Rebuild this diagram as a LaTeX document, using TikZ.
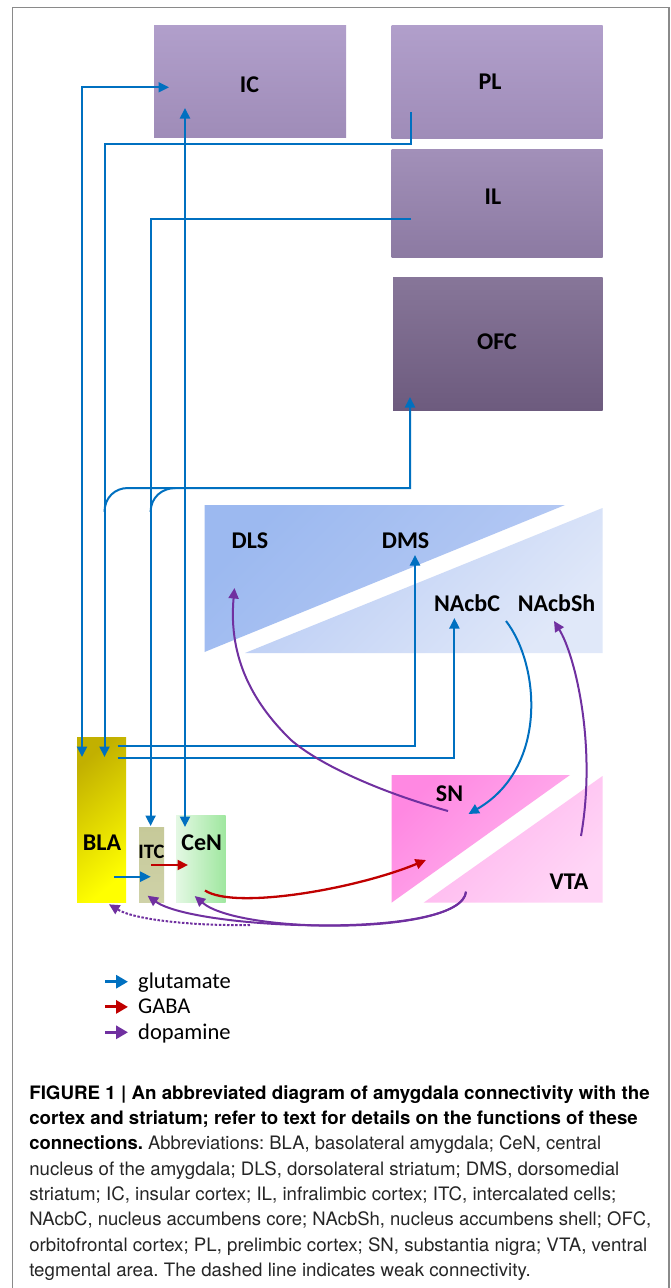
\documentclass[tikz,border=0pt]{standalone}
\usepackage{graphicx}
\usepackage{fontspec}
\setmainfont{Carlito}
\newfontfamily\capfont{TeX Gyre Heros}
\usetikzlibrary{arrows.meta}
\frenchspacing
\definecolor{glublue}{HTML}{0070C0}
\definecolor{gabared}{HTML}{C00000}
\definecolor{dopapurple}{HTML}{7030A0}
\definecolor{framegray}{HTML}{8A8A8A}
\definecolor{icTop}{HTML}{B19FCB}
\definecolor{icBot}{HTML}{9F8CB8}
\definecolor{ilTop}{HTML}{A290B9}
\definecolor{ilBot}{HTML}{8C7AA2}
\definecolor{ofcTop}{HTML}{877699}
\definecolor{ofcBot}{HTML}{6D5B7E}
\definecolor{strDark}{HTML}{9CB9F0}
\definecolor{strMid}{HTML}{B8CBF4}
\definecolor{strLight}{HTML}{E0E8F9}
\definecolor{snDark}{HTML}{FF88E2}
\definecolor{snLight}{HTML}{FFB8EF}
\definecolor{vtaDark}{HTML}{FFB0ED}
\definecolor{vtaLight}{HTML}{FFD6F6}
\definecolor{blaDark}{HTML}{C2B000}
\definecolor{blaLight}{HTML}{FFFF00}
\definecolor{itcCol}{HTML}{C6C999}
\definecolor{itcLight}{HTML}{CFD2A8}
\definecolor{cenLight}{HTML}{E4F8E4}
\definecolor{cenDark}{HTML}{9FE79F}
\begin{document}
\begin{tikzpicture}[x=1pt,y=-1pt,
  lbl/.style={font=\fontsize{24}{28}\selectfont\bfseries, inner sep=0pt, text=black},
  box/.style={inner sep=0pt, draw=none},
  glu/.style={draw=glublue, line width=2pt},
  gaba/.style={draw=gabared, line width=2.3pt},
  dopa/.style={draw=dopapurple, line width=2pt},
  >={Triangle[length=10.5pt,width=10pt]},
  legtip/.style={-{Triangle[length=12pt,width=13pt]}, line width=3pt},
  legtxt/.style={font=\fontsize{22.5}{26}\selectfont, anchor=base west, inner sep=0pt},
  capline/.style={anchor=base west, inner sep=0pt, font=\capfont\fontsize{18.5}{22}\selectfont}
]
\useasboundingbox (0,0) rectangle (671,1288);
\fill[white] (0,0) rectangle (671,1288);
\draw[framegray, line width=1.3pt] (12.8,1292) -- (12.8,7.5) -- (669,7.5) -- (669,1292);

% cortex boxes
\node[box, minimum width=192pt, minimum height=112pt, top color=icTop, bottom color=icBot] (IC) at (250,81) {};
\node[box, minimum width=211pt, minimum height=113pt, top color=icTop, bottom color=icBot] (PL) at (497,81.5) {};
\node[box, minimum width=211pt, minimum height=108pt, top color=ilTop, bottom color=ilBot] (IL) at (497,203) {};
\node[box, minimum width=209.5pt, minimum height=133pt, top color=ofcTop, bottom color=ofcBot] (OFC) at (497.75,343.5) {};

% striatum
\path[top color=strDark, bottom color=strMid, shading angle=45] (204.5,505) -- (565,505) -- (204.5,652) -- cycle;
\path[top color=strMid, bottom color=strLight, shading angle=45] (602.5,508) -- (602.5,653) -- (245,653) -- cycle;

% SN / VTA
\path[top color=snDark, bottom color=snLight, shading angle=45] (391.5,775) -- (570,775) -- (391.5,902.7) -- cycle;
\path[top color=vtaDark, bottom color=vtaLight, shading angle=45] (602.5,776) -- (602.5,902.7) -- (423.6,902.7) -- cycle;

% amygdala boxes
\node[box, minimum width=49pt, minimum height=165pt, top color=blaDark, bottom color=blaLight, shading angle=40] (BLA) at (101.5,819.5) {};
\node[box, minimum width=25pt, minimum height=74.3pt, top color=itcCol, bottom color=itcLight] (ITC) at (151.5,864.85) {};
\node[box, minimum width=49.7pt, minimum height=86.3pt, left color=cenLight, right color=cenDark] (CeN) at (200.85,858.85) {};

% coordinates
\coordinate (icA) at (169,87.3);
\coordinate (blaA) at (82,757);
\coordinate (plA) at (411,112);
\coordinate (blaB) at (104.5,757);
\coordinate (ilA) at (411,219);
\coordinate (itcA) at (150.6,826);
\coordinate (icB) at (185,108);
\coordinate (cenA) at (185,827);
\coordinate (ofcA) at (410,397);
\coordinate (brA) at (104.5,512);
\coordinate (brB) at (150.6,512);
\coordinate (blaC) at (117.5,745.7);
\coordinate (dmsA) at (415,555);
\coordinate (blaD) at (117.5,758);
\coordinate (nacA) at (454.4,618);
\coordinate (nacB) at (506,621);
\coordinate (snA) at (468.5,814);
\coordinate (blaE) at (114,876.7);
\coordinate (itcB) at (150.7,876.7);
\coordinate (itcC) at (151,865);
\coordinate (cenB) at (188,865);
\coordinate (cenC) at (205,890.5);
\coordinate (snB) at (426,860);
\coordinate (snC) at (448,811);
\coordinate (dlsA) at (234.5,588);
\coordinate (vtaA) at (581,836);
\coordinate (shA) at (554,621);
\coordinate (vtaB) at (466,891.7);
\coordinate (cenD) at (194.7,896);
\coordinate (itcD) at (147.6,895.7);
\coordinate (dsh) at (250,925);
\coordinate (blaF) at (109,904.3);

% glutamate connectors
\draw[glu,<->] (blaA) |- (icA);
\draw[glu,->] (plA) -- ++(0,32) -| (blaB);
\draw[glu,->] (ilA) -| (itcA);
\draw[glu,<->] (cenA) -- (icB);
\draw[glu,->] (brA) .. controls (104.5,497.5) and (115,488) .. (128,488) -- (410,488) -- (ofcA);
\draw[glu] (brB) .. controls (150.6,497.5) and (162,488) .. (175.4,488);
\draw[glu,->] (blaC) -| (dmsA);
\draw[glu,->] (blaD) -| (nacA);
\draw[glu,->] (nacB) .. controls (540,665) and (548,768) .. (snA);
\draw[glu,->] (blaE) -- (itcB);

% GABA connectors
\draw[gaba,->] (itcC) -- (cenB);
\draw[gaba,->] (cenC) .. controls (235,910) and (356,889) .. (snB);

% dopamine connectors
\draw[dopa,->] (snC) .. controls (380,792) and (320,765) .. (291,740) .. controls (255,705) and (228,660) .. (dlsA);
\draw[dopa,->] (vtaA) .. controls (597,745) and (575,655) .. (shA);
\draw[dopa,->] (vtaB) .. controls (462,935) and (240,935) .. (cenD);
\draw[dopa,->] (vtaB) .. controls (462,940) and (195,930) .. (itcD);
\draw[dopa,dash pattern=on 2.5pt off 1.6pt,->] (dsh) .. controls (195,926) and (135,920) .. (blaF);

% labels
\node[lbl] (ICl) at (249.5,85) {IC};
\node[lbl] (PLl) at (490,82) {PL};
\node[lbl] (ILl) at (493,197) {IL};
\node[lbl] (OFCl) at (497,342) {OFC};
\node[lbl] (DLSl) at (250,540.8) {DLS};
\node[lbl] (DMSl) at (405.6,540.8) {DMS};
\node[lbl] (NACl) at (467,602.8) {NAcbC};
\node[lbl] (SHl) at (556.5,602.8) {NAcbSh};
\node[lbl] (SNl) at (449.5,794) {SN};
\node[lbl] (VTAl) at (569,881.5) {VTA};
\node[lbl] (BLAl) at (102,842.7) {BLA};
\node[lbl, font=\fontsize{20.5}{24}\selectfont\bfseries] (ITCl) at (151.5,851.7) {ITC};
\node[lbl] (CeNl) at (201.7,842.7) {CeN};

% legend
\coordinate (lg1a) at (105,981.7); \coordinate (lg1b) at (128,981.7);
\coordinate (lg2a) at (105,1006.9); \coordinate (lg2b) at (128,1006.9);
\coordinate (lg3a) at (105,1032.3); \coordinate (lg3b) at (128,1032.3);
\draw[draw=glublue, legtip] (lg1a) -- (lg1b);
\draw[draw=gabared, legtip] (lg2a) -- (lg2b);
\draw[draw=dopapurple, legtip] (lg3a) -- (lg3b);
\node[legtxt] (lt1) at (138,988) {glutamate};
\node[legtxt] (lt2) at (138,1013.7) {GABA};
\node[legtxt] (lt3) at (138,1039.4) {dopamine};

% caption
\node[capline] (cap1) at (29.1,1099.3) {\resizebox{620.4pt}{\height}{\bfseries FIGURE 1 | An abbreviated diagram of amygdala connectivity with the}};
\node[capline] (cap2) at (29.1,1124.6) {\resizebox{608.5pt}{\height}{\bfseries cortex and striatum; refer to text for details on the functions of these}};
\node[capline] (cap3) at (29.1,1149.9) {\resizebox{572pt}{\height}{\textbf{connections.} {\color{black!85}Abbreviations: BLA, basolateral amygdala; CeN, central}}};
\node[capline, text=black!85] (cap4) at (29.1,1175.2) {\resizebox{590pt}{\height}{nucleus of the amygdala; DLS, dorsolateral striatum; DMS, dorsomedial}};
\node[capline, text=black!85] (cap5) at (29.1,1200.5) {\resizebox{587pt}{\height}{striatum; IC, insular cortex; IL, infralimbic cortex; ITC, intercalated cells;}};
\node[capline, text=black!85] (cap6) at (29.1,1225.8) {\resizebox{622pt}{\height}{NAcbC, nucleus accumbens core; NAcbSh, nucleus accumbens shell; OFC,}};
\node[capline, text=black!85] (cap7) at (29.1,1251.1) {\resizebox{618pt}{\height}{orbitofrontal cortex; PL, prelimbic cortex; SN, substantia nigra; VTA, ventral}};
\node[capline, text=black!85] (cap8) at (29.1,1276.4) {\resizebox{501.5pt}{\height}{tegmental area. The dashed line indicates weak connectivity.}};
\end{tikzpicture}
\end{document}
